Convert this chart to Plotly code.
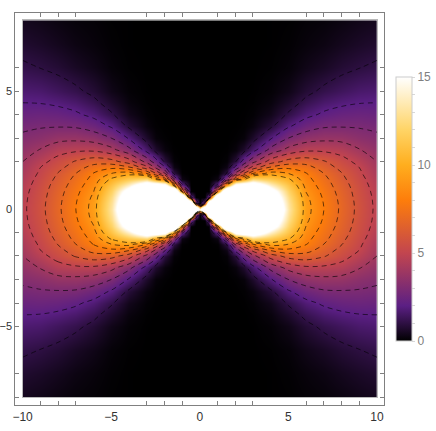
import numpy as np
import plotly.graph_objects as go

# -------------------------------------------------------------------
# DATA (upper right quadrant, the map is mirrored)
# -------------------------------------------------------------------
x_right = [0, 0.25, 0.5, 1, 1.5, 2, 2.5, 3, 4, 5, 6, 7, 8, 9, 10]
y_up = [0, 0.25, 0.5, 0.75, 1, 1.25, 1.5, 1.75, 2, 2.5, 3, 3.5, 4, 4.5, 5, 6, 7, 8]

# one row per y_up value, one column per x_right value
z_quadrant = [
    [15, 30, 30, 30, 30, 30, 30, 30, 20, 13.2, 9.4, 8, 6.8, 5.7, 4.8],
    [0, 3.5, 25, 30, 30, 30, 30, 30, 19, 13, 9.35, 7.95, 6.77, 5.68, 4.78],
    [0, 0, 2.5, 25, 28, 28, 28, 28, 18, 12.6, 9.2, 7.85, 6.7, 5.62, 4.75],
    [0, 0, 0.05, 8, 24, 24, 24, 24, 16.5, 12, 8.95, 7.7, 6.6, 5.55, 4.68],
    [0, 0, 0, 2.3, 9.5, 17, 18, 18, 14, 11.2, 8.65, 7.5, 6.45, 5.45, 4.58],
    [0, 0, 0, 0.3, 3.6, 8, 9.8, 12.5, 11.5, 10.2, 8.35, 7.3, 6.25, 5.32, 4.45],
    [0, 0, 0, 0.05, 1, 4.2, 6.1, 8, 9.5, 9, 8.05, 7, 6.05, 5.15, 4.3],
    [0, 0, 0, 0, 0.3, 2.3, 3.9, 5.4, 7.2, 7.8, 7.4, 6.55, 5.7, 5, 4.15],
    [0, 0, 0, 0, 0.1, 0.9, 2.5, 3.7, 5.5, 6.4, 6.6, 6.1, 5.4, 4.7, 4],
    [0, 0, 0, 0, 0.02, 0.2, 0.7, 1.65, 3.3, 4.3, 4.8, 4.8, 4.6, 4.05, 3.6],
    [0, 0, 0, 0, 0, 0.05, 0.15, 0.65, 1.9, 3, 3.55, 3.75, 3.7, 3.4, 3.2],
    [0, 0, 0, 0, 0, 0.01, 0.05, 0.2, 0.85, 1.9, 2.55, 2.9, 2.95, 2.92, 2.8],
    [0, 0, 0, 0, 0, 0, 0.02, 0.08, 0.4, 1.1, 1.75, 2.15, 2.38, 2.45, 2.4],
    [0, 0, 0, 0, 0, 0, 0, 0.03, 0.2, 0.65, 1.2, 1.6, 1.83, 1.97, 2],
    [0, 0, 0, 0, 0, 0, 0, 0.01, 0.1, 0.35, 0.8, 1.15, 1.4, 1.62, 1.7],
    [0, 0, 0, 0, 0, 0, 0, 0, 0.03, 0.12, 0.35, 0.55, 0.8, 0.98, 1.12],
    [0, 0, 0, 0, 0, 0, 0, 0, 0.01, 0.06, 0.17, 0.28, 0.45, 0.6, 0.72],
    [0, 0, 0, 0, 0, 0, 0, 0, 0.01, 0.03, 0.1, 0.15, 0.25, 0.36, 0.45],
]

x_labels = [-10, -5, 0, 5, 10]
y_labels = [-5, 0, 5]
x_minor = [-9, -8, -7, -3, -2, -1, 1, 2, 3, 6, 7, 8, 9]
y_minor = [-8, -7, -5, -4, -3, -2, -1, 2, 3, 4, 5, 6]
bar_ticks = list(range(16))

# mirror the quadrant into the full map
q = np.array(z_quadrant, dtype=float)
right_half = np.hstack([q[:, :0:-1], q])
z = np.vstack([right_half[:0:-1], right_half])
x = [-v for v in x_right[:0:-1]] + x_right
y = [-v for v in y_up[:0:-1]] + y_up

# -------------------------------------------------------------------
# COLOURS / SIZES
# -------------------------------------------------------------------
W, H = 436, 431
sunset = [
    [0.0, "#000000"],
    [0.133, "#5b1f84"],
    [0.333, "#c2454f"],
    [0.533, "#fd7d0b"],
    [0.667, "#ffae1e"],
    [0.8, "#ffd466"],
    [1.0, "#ffffff"],
]


def xdom(a, b):
    return [a / W, b / W]


def ydom(top, bottom):
    return [1 - bottom / H, 1 - top / H]


# -------------------------------------------------------------------
# FIGURE
# -------------------------------------------------------------------
fig = go.Figure()

fig.add_trace(
    go.Heatmap(
        x=x,
        y=y,
        z=z,
        zmin=0,
        zmax=15,
        zsmooth="best",
        colorscale=sunset,
        hoverinfo="skip",
        colorbar=dict(
            x=396 / W,
            xanchor="left",
            xpad=0,
            y=1 - 341 / H,
            yanchor="bottom",
            ypad=0,
            lenmode="pixels",
            len=264,
            thicknessmode="pixels",
            thickness=16,
            outlinecolor="#cccccc",
            outlinewidth=1,
            tickmode="array",
            tickvals=bar_ticks,
            ticktext=[str(v) if v % 5 == 0 else "" for v in bar_ticks],
            ticks="outside",
            ticklen=3,
            tickcolor="#d8d8d8",
            tickfont=dict(family="Liberation Sans", size=12, color="#808080"),
        ),
    )
)

# Dashed contours
fig.add_trace(
    go.Contour(
        x=x,
        y=y,
        z=z,
        autocontour=False,
        contours=dict(coloring="none", start=1, end=10, size=1),
        line=dict(color="rgba(0,0,0,0.75)", width=0.8, dash="5px,4px"),
        showscale=False,
        hoverinfo="skip",
    )
)

# Empty trace so the outer frame axes get drawn
fig.add_trace(
    go.Scatter(x=[None], y=[None], xaxis="x2", yaxis="y2", showlegend=False, hoverinfo="skip")
)

frame_style = dict(
    showgrid=False,
    zeroline=False,
    showline=True,
    linecolor="#808080",
    linewidth=1.2,
    mirror="ticks",
    tickmode="array",
    ticks="outside",
    ticklen=0,
)

fig.update_layout(
    width=W,
    height=H,
    margin=dict(l=0, r=0, t=0, b=0, autoexpand=False),
    plot_bgcolor="rgba(0,0,0,0)",
    paper_bgcolor="white",
    showlegend=False,
    xaxis=dict(
        domain=xdom(22.7, 377),
        range=[-10, 10],
        showgrid=False,
        zeroline=False,
        showticklabels=False,
        ticks="",
        showline=True,
        mirror=True,
        linecolor="#b8b8b8",
        linewidth=1,
    ),
    yaxis=dict(
        domain=ydom(20.3, 397.3),
        range=[-8, 8],
        showgrid=False,
        zeroline=False,
        showticklabels=False,
        ticks="",
        showline=True,
        mirror=True,
        linecolor="#b8b8b8",
        linewidth=1,
    ),
    xaxis2=dict(
        domain=xdom(15.3, 384.3),
        range=[-10.41, 10.41],
        anchor="y2",
        tickvals=x_labels,
        ticktext=["\u221210", "\u22125", "0", "5", "10"],
        tickfont=dict(family="Liberation Sans", size=12, color="#333333"),
        minor=dict(tickmode="array", tickvals=x_minor, ticks="inside", ticklen=4, tickcolor="#808080", showgrid=False),
        **frame_style,
    ),
    yaxis2=dict(
        domain=ydom(12.7, 405),
        range=[-8.33, 8.33],
        anchor="x2",
        tickvals=y_labels,
        ticktext=["\u22125", "0", "5"],
        tickfont=dict(family="Liberation Sans", size=11, color="#333333"),
        minor=dict(tickmode="array", tickvals=y_minor, ticks="inside", ticklen=4, tickcolor="#808080", showgrid=False),
        **frame_style,
    ),
)

fig.write_html(
    "out.html",
    config=dict(displayModeBar=False),
    post_script="document.body.style.margin='0';",
)
